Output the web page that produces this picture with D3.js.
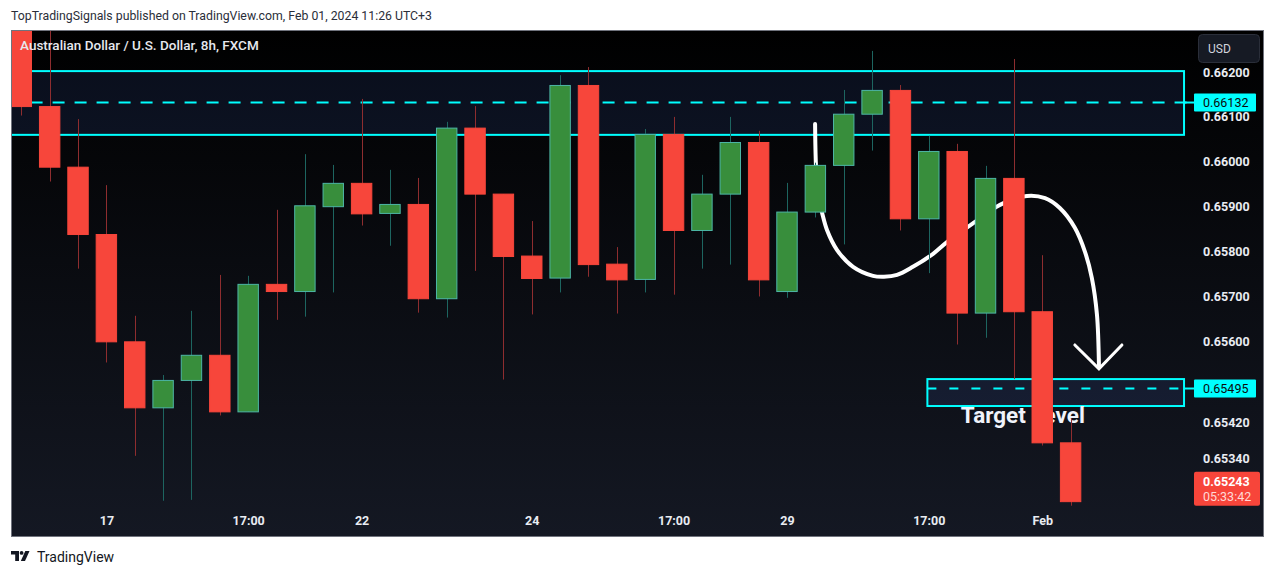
<!DOCTYPE html>
<html><head><meta charset="utf-8">
<script src="https://cdn.jsdelivr.net/npm/d3@7"></script>
<style>body{margin:0;background:#fff;overflow:hidden}</style>
</head><body>
<svg id="c" width="1275" height="576"></svg>
<script>
// ---- data (AUD/USD 8h candles) ----
const opens  = [0.66320,0.66123,0.65988,0.65838,0.65599,0.65452,0.65513,0.65569,0.65443,0.65727,0.65711,0.65900,0.65952,0.65885,0.65905,0.65695,0.66075,0.65928,0.65790,0.65741,0.66170,0.65772,0.65738,0.66061,0.65847,0.65928,0.66043,0.65711,0.65888,0.65992,0.66106,0.66159,0.65873,0.66023,0.65663,0.65963,0.65666,0.65374];
const highs  = [0.66340,0.66330,0.66095,0.65948,0.65657,0.65525,0.65668,0.65748,0.65746,0.65893,0.66017,0.65993,0.66140,0.65982,0.65964,0.66089,0.66124,0.65928,0.65868,0.66193,0.66211,0.65810,0.66073,0.66100,0.65971,0.66100,0.66069,0.65953,0.65998,0.66160,0.66247,0.66171,0.66058,0.66040,0.65991,0.66229,0.65792,0.65429];
const lows   = [0.66103,0.65956,0.65762,0.65553,0.65345,0.65245,0.65247,0.65435,0.65443,0.65648,0.65655,0.65709,0.65858,0.65813,0.65664,0.65653,0.65757,0.65515,0.65660,0.65709,0.65744,0.65662,0.65709,0.65704,0.65762,0.65771,0.65700,0.65697,0.65876,0.65816,0.66025,0.65847,0.65752,0.65593,0.65608,0.65516,0.65368,0.65234];
const closes = [0.66123,0.65988,0.65838,0.65599,0.65452,0.65513,0.65569,0.65443,0.65727,0.65711,0.65902,0.65952,0.65884,0.65905,0.65695,0.66075,0.65928,0.65789,0.65740,0.66170,0.65771,0.65737,0.66061,0.65847,0.65928,0.66043,0.65737,0.65888,0.65992,0.66106,0.66159,0.65873,0.66023,0.65663,0.65963,0.65666,0.65374,0.65243];

const timeTickIndex  = [3, 8, 12, 18, 23, 27, 32, 36];
const timeTickLabels = ["17","17:00","22","24","17:00","29","17:00","Feb"];
const priceTicks = [0.66200,0.66100,0.66000,0.65900,0.65800,0.65700,0.65600,0.65420,0.65340];

const upperZone = [0.66202, 0.66060];   // price top, bottom
const upperZoneStart = -2, zoneEnd = 41.0;
const upperLine = 0.66132;
const lowerZone = [0.65516, 0.65456];
const lowerZoneStart = 31.95;
const lowerLine = 0.65495;
const lastPrice = 0.65243;
const countdown = "05:33:42";

const curveIdx   = [27.99,28.02,28.09,28.23,28.41,28.76,29.33,30.03,30.42,30.88,31.44,32.15,32.64,33.63,34.51,35.46,36.10,36.62,37.15,37.51,37.75,37.93,38.00];
const curvePrice = [0.66084,0.65993,0.65926,0.65888,0.65848,0.65804,0.65766,0.65746,0.65744,0.65748,0.65766,0.65795,0.65821,0.65866,0.65904,0.65924,0.65919,0.65897,0.65853,0.65799,0.65741,0.65659,0.65545];
const arrowIdx   = [37.15,38.00,38.81];
const arrowPrice = [0.65592,0.65539,0.65592];
const targetText = "Target Level";
const targetIdx = 33.13, targetPrice = 0.65436;

// ---- layout ----
const W = 1275, H = 576;
const pane = {x0: 11, x1: 1192, y0: 30, y1: 536};
const frameRight = 1264;
const FONT = "Roboto, 'Liberation Sans', sans-serif";
const RED = "#f7463b", GREEN = "#388e3c", GREEN_BORDER = "#4db6a6";
const RED_WICK = "#8e2d2f", GREEN_WICK = "#1d6560";
const CYAN = "#00ffff";

const x = d3.scaleLinear().domain([0, 37]).range([21.3, 1070.6]);
const y = d3.scaleLinear().domain([0.662, 0.6534]).range([72, 458.1]);
const step = x(1) - x(0);
const bodyW = step * 0.72;

const svg = d3.select("#c");
const defs = svg.append("defs");
const grad = defs.append("linearGradient").attr("id","bg").attr("x1",0).attr("y1",0).attr("x2",0).attr("y2",1);
grad.append("stop").attr("offset","0%").attr("stop-color","#000000");
grad.append("stop").attr("offset","100%").attr("stop-color","#141823");
defs.append("clipPath").attr("id","paneClip").append("rect")
  .attr("x",pane.x0).attr("y",pane.y0).attr("width",pane.x1-pane.x0).attr("height",pane.y1-pane.y0);

svg.append("rect").attr("width",W).attr("height",H).attr("fill","#ffffff");

// header
svg.append("text").attr("x",11).attr("y",20).attr("font-family",FONT).attr("font-size",12.5)
  .attr("textLength",421).attr("lengthAdjust","spacingAndGlyphs")
  .attr("fill","#2a2e39").text("TopTradingSignals published on TradingView.com, Feb 01, 2024 11:26 UTC+3");

// chart background
svg.append("rect").attr("x",pane.x0).attr("y",pane.y0).attr("width",frameRight-pane.x0).attr("height",pane.y1-pane.y0)
  .attr("fill","url(#bg)");

const g = svg.append("g").attr("clip-path","url(#paneClip)");

// zones
function zone(x0i, x1i, pr, linePr, dash){
  g.append("rect").attr("x",x(x0i)).attr("y",y(pr[0])).attr("width",x(x1i)-x(x0i)).attr("height",y(pr[1])-y(pr[0]))
    .attr("fill","rgba(70,112,205,0.13)").attr("stroke",CYAN).attr("stroke-width",2);
  g.append("line").attr("x1",x(x0i)).attr("x2",x(x1i)+3).attr("y1",y(linePr)).attr("y2",y(linePr))
    .attr("stroke",CYAN).attr("stroke-width",2).attr("stroke-dasharray",dash);
}
zone(upperZoneStart, zoneEnd, upperZone, upperLine, "12,10");
zone(lowerZoneStart, zoneEnd, lowerZone, lowerLine, "9,13");

// curve + arrow (drawn below candles)
const pts = curveIdx.map((d,i)=>[d, curvePrice[i]]);
const line = d3.line().x(d=>x(d[0])).y(d=>y(d[1])).curve(d3.curveCatmullRom.alpha(0.5));
g.append("path").attr("d",line(pts)).attr("fill","none").attr("stroke","#ffffff").attr("stroke-width",4).attr("stroke-linecap","round");
const apts = arrowIdx.map((d,i)=>[d, arrowPrice[i]]);
g.append("path").attr("d",d3.line().x(d=>x(d[0])).y(d=>y(d[1]))(apts)).attr("fill","none")
  .attr("stroke","#ffffff").attr("stroke-width",3).attr("stroke-linecap","round").attr("stroke-linejoin","miter");

// target text
g.append("text").attr("x",x(targetIdx)).attr("y",y(targetPrice)).attr("dy","0.36em")
  .attr("font-family",FONT).attr("font-weight","bold").attr("font-size",22.5).attr("fill","#f0f3fa").text(targetText);

// candles
const candles = opens.map((o,i)=>({i, o, h:highs[i], l:lows[i], c:closes[i], up: closes[i] >= o}));
g.selectAll("line.wick").data(candles).join("line").attr("class","wick")
  .attr("x1",d=>Math.round(x(d.i))+0.5).attr("x2",d=>Math.round(x(d.i))+0.5)
  .attr("y1",d=>y(d.h)).attr("y2",d=>y(d.l))
  .attr("stroke",d=>d.up?GREEN_WICK:RED_WICK).attr("stroke-width",1);
g.selectAll("rect.body").data(candles).join("rect").attr("class","body")
  .attr("x",d=>x(d.i)-bodyW/2).attr("width",bodyW)
  .attr("y",d=>y(Math.max(d.o,d.c))).attr("height",d=>Math.max(1,Math.abs(y(d.o)-y(d.c))))
  .attr("fill",d=>d.up?GREEN:RED).attr("stroke",d=>d.up?GREEN_BORDER:RED).attr("stroke-width",1);

// title
svg.append("text").attr("x",20).attr("y",50).attr("font-family",FONT).attr("font-size",13.5).attr("font-weight",500)
  .attr("fill","#e6e8ee").text("Australian Dollar / U.S. Dollar, 8h, FXCM");

// price axis
const pa = svg.append("g").attr("transform","translate(1203,0)")
  .call(d3.axisRight(y).tickValues(priceTicks).tickFormat(d3.format(".5f")).tickSize(0).tickPadding(0));
pa.select(".domain").remove();
pa.selectAll("text").attr("font-family",FONT).attr("font-size",12.5).attr("font-weight","bold").attr("fill","#e9ecf2").attr("text-anchor","start");

// time axis
const ta = svg.append("g").attr("transform","translate(0,516)")
  .call(d3.axisBottom(x).tickValues(timeTickIndex).tickFormat((d,i)=>timeTickLabels[i]).tickSize(0).tickPadding(0));
ta.select(".domain").remove();
ta.selectAll("text").attr("font-family",FONT).attr("font-size",12.5).attr("font-weight","bold").attr("fill","#e9ecf2");

// price labels
function priceLabel(p, fill, textFill){
  svg.append("line").attr("x1",x(zoneEnd)).attr("x2",1194).attr("y1",y(p)).attr("y2",y(p)).attr("stroke",fill).attr("stroke-width",2);
  svg.append("rect").attr("x",1194).attr("y",y(p)-9).attr("width",62).attr("height",18).attr("rx",1).attr("fill",fill);
  svg.append("text").attr("x",1203).attr("y",y(p)).attr("dy","0.35em").attr("font-family",FONT).attr("font-size",12.5)
    .attr("fill",textFill).text(d3.format(".5f")(p));
}
priceLabel(upperLine, CYAN, "#0b0b0b");
priceLabel(lowerLine, CYAN, "#0b0b0b");

// last price label
const ly = y(lastPrice);
svg.append("rect").attr("x",1194).attr("y",ly-30).attr("width",66).attr("height",34).attr("rx",2).attr("fill","#f7453a");
svg.append("text").attr("x",1203).attr("y",ly-20).attr("dy","0.35em").attr("font-family",FONT).attr("font-size",12.5).attr("font-weight","bold")
  .attr("fill","#ffffff").text(d3.format(".5f")(lastPrice));
svg.append("text").attr("x",1203).attr("y",ly-5).attr("dy","0.35em").attr("font-family",FONT).attr("font-size",12.5)
  .attr("fill","#ffd9d6").text(countdown);

// USD button
svg.append("rect").attr("x",1198.5).attr("y",34.5).attr("width",61).attr("height",28).attr("rx",4)
  .attr("fill","#161a24").attr("stroke","#2a2e39");
svg.append("text").attr("x",1208).attr("y",49).attr("dy","0.35em").attr("font-family",FONT).attr("font-size",12)
  .attr("fill","#d1d4dc").text("USD");

// frame
svg.append("rect").attr("x",pane.x0+0.5).attr("y",pane.y0+0.5).attr("width",frameRight-pane.x0-1).attr("height",pane.y1-pane.y0)
  .attr("fill","none").attr("stroke","#70737d").attr("stroke-width",1);

// footer logo
const logo = svg.append("g").attr("fill","#131722");
logo.append("path").attr("d","M11 551 H19 V561 H15.2 V554.6 H11 Z");
logo.append("circle").attr("cx",21.6).attr("cy",552.9).attr("r",1.9);
logo.append("path").attr("d","M25.3 551 H29.5 L25 561 H20.8 Z");
svg.append("text").attr("x",37).attr("y",562).attr("font-family",FONT).attr("font-size",14).attr("fill","#131722").text("TradingView");
</script>
</body></html>
